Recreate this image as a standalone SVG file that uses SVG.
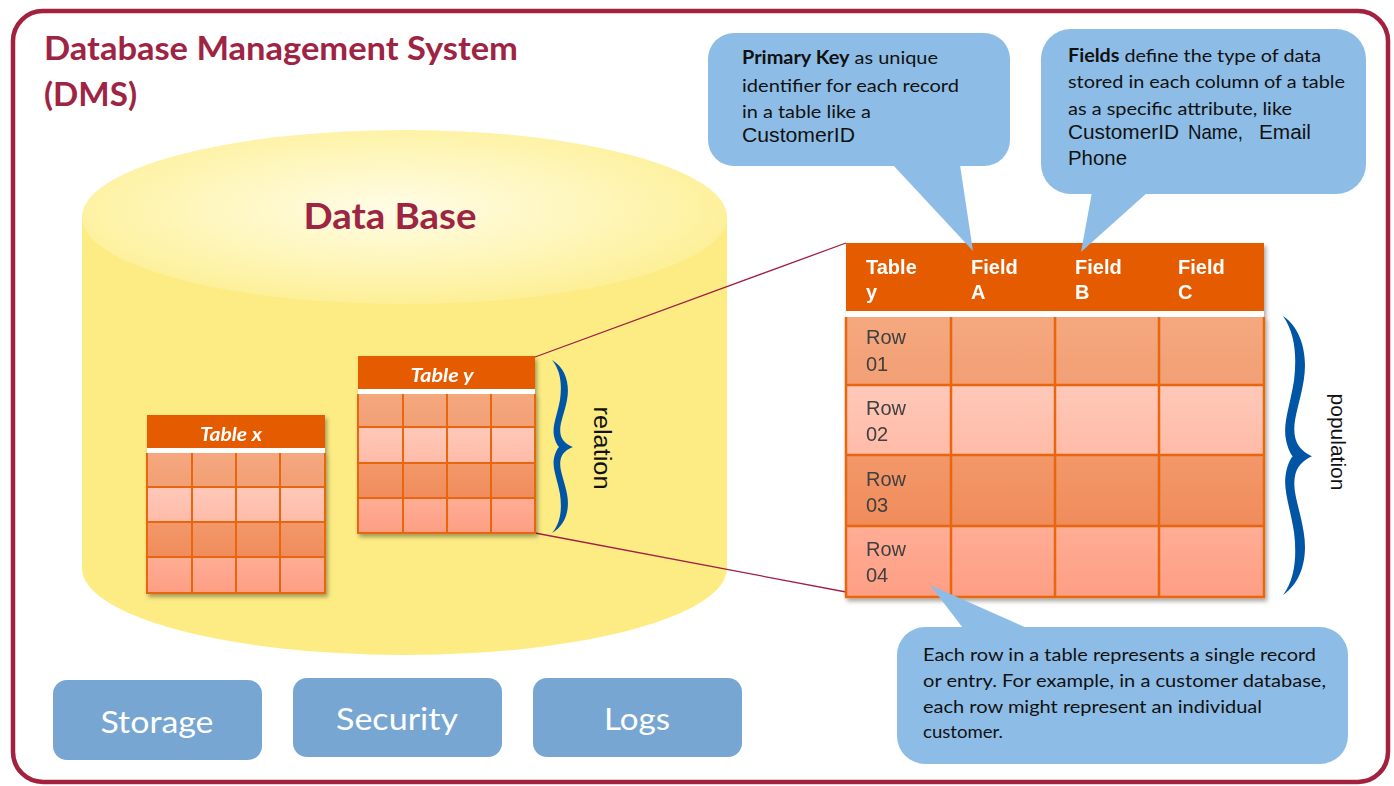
<svg xmlns="http://www.w3.org/2000/svg" width="1394" height="786" viewBox="0 0 1394 786">
<defs>
<style>
.cal{font-family:Lato,"Open Sans","Liberation Sans",sans-serif}
.ari{font-family:"Liberation Sans",Arial,sans-serif}
.maroon{fill:#9E2443}
.callout{fill:#8DBDE6}
.ctext{font-size:18px;fill:#111}
.atext{font-size:20.5px;fill:#111}
.box{fill:#77A6D2}
.boxtext{font-size:31px;fill:#fff;text-anchor:middle}
.hdr{fill:#E55C00}
.grid{stroke:#E8660F;stroke-width:2;fill:none}
.gridb{stroke:#E8660F;stroke-width:2.5;fill:none}
.th{font-size:20px;font-weight:bold;fill:#fff}
.rl{font-size:20px;fill:#404040}
.stitle{font-size:18px;font-weight:bold;font-style:italic;fill:#fff;text-anchor:middle}
.brace{fill:#0055A5}
.conn{stroke:#A01F45;stroke-width:1.3;fill:none}
</style>
<radialGradient id="topg" cx="0.48" cy="0.45" r="0.6">
<stop offset="0" stop-color="#FFFCE6"/>
<stop offset="0.6" stop-color="#FEF5B4"/>
<stop offset="1" stop-color="#FDEE90"/>
</radialGradient>
<linearGradient id="r1" x1="0" y1="0" x2="0" y2="1"><stop offset="0" stop-color="#F5A87F"/><stop offset="1" stop-color="#F29F74"/></linearGradient>
<linearGradient id="r2" x1="0" y1="0" x2="0" y2="1"><stop offset="0" stop-color="#FFC8B9"/><stop offset="1" stop-color="#FFBBA7"/></linearGradient>
<linearGradient id="r3" x1="0" y1="0" x2="0" y2="1"><stop offset="0" stop-color="#F3986A"/><stop offset="1" stop-color="#F08C5B"/></linearGradient>
<linearGradient id="r4" x1="0" y1="0" x2="0" y2="1"><stop offset="0" stop-color="#FFAD95"/><stop offset="1" stop-color="#FD9E84"/></linearGradient>
<filter id="sh" x="-10%" y="-10%" width="125%" height="125%">
<feDropShadow dx="2" dy="3" stdDeviation="2" flood-color="#000" flood-opacity="0.35"/>
</filter>
<path id="bracePath" d="M0,0 C14,8 18,25 15,40 C12,56 6,66 9,76 C11,82 16,85 21,87 C16,89 11,92 9,98 C6,108 12,118 15,134 C18,149 14,165 0,173 C9,163 10,148 8,134 C5,118 0,108 2,98 C3,93 5,89 7,87 C5,85 3,81 2,76 C0,66 5,56 8,40 C10,25 9,11 0,0 Z"/>
</defs>

<rect width="1394" height="786" fill="#fff"/>

<g id="frame">
<rect x="13" y="11" width="1375" height="771" rx="30" fill="none" stroke="#A3213F" stroke-width="4.5"/>
</g>

<g id="title" class="cal maroon" font-weight="bold">
<text x="44" y="60" font-size="33" textLength="474" lengthAdjust="spacingAndGlyphs">Database Management System</text>
<text x="44" y="106" font-size="33" textLength="93" lengthAdjust="spacingAndGlyphs">(DMS)</text>
</g>

<g id="database">
<path d="M82,217 L82,568 A322.5,87 0 0 0 727,568 L727,217 Z" fill="#FDEC84"/>
<ellipse cx="404.5" cy="217" rx="322.5" ry="87" fill="url(#topg)"/>
<text x="390" y="229" class="cal maroon" font-size="36" font-weight="bold" text-anchor="middle" textLength="173" lengthAdjust="spacingAndGlyphs">Data Base</text>
</g>

<g id="connectors">
<line class="conn" x1="535" y1="357" x2="846" y2="243"/>
<line class="conn" x1="535" y1="533" x2="846" y2="592"/>
</g>

<g id="table-x" filter="url(#sh)">
<rect x="147" y="415" width="178" height="33" class="hdr"/>
<rect x="147" y="448" width="178" height="5" fill="#fff"/>
<rect x="147" y="453" width="178" height="34" fill="url(#r1)"/>
<rect x="147" y="487" width="178" height="35" fill="url(#r2)"/>
<rect x="147" y="522" width="178" height="35" fill="url(#r3)"/>
<rect x="147" y="557" width="178" height="36" fill="url(#r4)"/>
<path class="grid" d="M192,453V593M236,453V593M280,453V593M147,487H325M147,522H325M147,557H325M147,453V593H325V453"/>
<text x="231" y="441" class="cal stitle" textLength="62" lengthAdjust="spacingAndGlyphs">Table x</text>
</g>

<g id="table-y" filter="url(#sh)">
<rect x="358" y="356" width="177" height="33" class="hdr"/>
<rect x="358" y="389" width="177" height="5" fill="#fff"/>
<rect x="358" y="394" width="177" height="33" fill="url(#r1)"/>
<rect x="358" y="427" width="177" height="36" fill="url(#r2)"/>
<rect x="358" y="463" width="177" height="35" fill="url(#r3)"/>
<rect x="358" y="498" width="177" height="35" fill="url(#r4)"/>
<path class="grid" d="M403,394V533M447,394V533M491,394V533M358,427H535M358,463H535M358,498H535M358,394V533H535V394"/>
<text x="442" y="382" class="cal stitle" textLength="63" lengthAdjust="spacingAndGlyphs">Table y</text>
</g>

<g id="relation-brace">
<use href="#bracePath" class="brace" transform="translate(552,360)"/>
<text transform="translate(594,448) rotate(90)" class="ari" font-size="23" fill="#111" text-anchor="middle" textLength="83" lengthAdjust="spacingAndGlyphs">relation</text>
</g>

<g id="big-table" filter="url(#sh)">
<rect x="846" y="243" width="418" height="68" class="hdr"/>
<rect x="846" y="311" width="418" height="6" fill="#fff"/>
<rect x="846" y="317" width="418" height="68" fill="url(#r1)"/>
<rect x="846" y="385" width="418" height="70" fill="url(#r2)"/>
<rect x="846" y="455" width="418" height="71" fill="url(#r3)"/>
<rect x="846" y="526" width="418" height="71" fill="url(#r4)"/>
<path class="gridb" d="M951,317V597M1055,317V597M1159,317V597M846,385H1264M846,455H1264M846,526H1264M846,317V597H1264V317"/>
<g class="ari th">
<text x="866" y="274">Table</text><text x="866" y="299">y</text>
<text x="971" y="274">Field</text><text x="971" y="299">A</text>
<text x="1075" y="274">Field</text><text x="1075" y="299">B</text>
<text x="1178" y="274">Field</text><text x="1178" y="299">C</text>
</g>
<g class="ari rl">
<text x="866" y="344">Row</text><text x="866" y="371">01</text>
<text x="866" y="415">Row</text><text x="866" y="441">02</text>
<text x="866" y="486">Row</text><text x="866" y="512">03</text>
<text x="866" y="556">Row</text><text x="866" y="582">04</text>
</g>
</g>

<g id="population-brace">
<use href="#bracePath" class="brace" transform="translate(1283,316) scale(1.38,1.613)"/>
<text transform="translate(1331,442) rotate(90)" class="ari" font-size="20" fill="#111" text-anchor="middle" textLength="97" lengthAdjust="spacingAndGlyphs">population</text>
</g>

<g id="callout-primary-key">
<rect x="708" y="33" width="302" height="133" rx="26" class="callout"/>
<polygon points="893,165 960,165 973,251" class="callout"/>
<text x="742" y="64" class="cal ctext" textLength="196" lengthAdjust="spacingAndGlyphs"><tspan font-weight="bold">Primary Key</tspan> as unique</text>
<text x="742" y="92" class="cal ctext" textLength="217" lengthAdjust="spacingAndGlyphs">identifier for each record</text>
<text x="742" y="118" class="cal ctext" textLength="129" lengthAdjust="spacingAndGlyphs">in a table like a</text>
<text x="742" y="142" class="ari atext" textLength="113" lengthAdjust="spacingAndGlyphs">CustomerID</text>
</g>

<g id="callout-fields">
<rect x="1041" y="29" width="325" height="165" rx="30" class="callout"/>
<polygon points="1092,192 1148,192 1081,252" class="callout"/>
<text x="1068" y="62" class="cal ctext" textLength="253" lengthAdjust="spacingAndGlyphs"><tspan font-weight="bold">Fields</tspan> define the type of data</text>
<text x="1068" y="88" class="cal ctext" textLength="277" lengthAdjust="spacingAndGlyphs">stored in each column of a table</text>
<text x="1068" y="115" class="cal ctext" textLength="224" lengthAdjust="spacingAndGlyphs">as a specific attribute, like</text>
<text x="1068" y="139" class="ari atext" textLength="111" lengthAdjust="spacingAndGlyphs">CustomerID</text>
<text x="1188" y="139" class="ari atext" textLength="55" lengthAdjust="spacingAndGlyphs">Name,</text>
<text x="1259" y="139" class="ari atext" textLength="52" lengthAdjust="spacingAndGlyphs">Email</text>
<text x="1068" y="165" class="ari atext" textLength="59" lengthAdjust="spacingAndGlyphs">Phone</text>
</g>

<g id="callout-row">
<rect x="897" y="627" width="451" height="137" rx="28" class="callout"/>
<polygon points="930,585 966,632 1036,632" class="callout"/>
<text x="923" y="661" class="cal ctext" textLength="393" lengthAdjust="spacingAndGlyphs">Each row in a table represents a single record</text>
<text x="923" y="687" class="cal ctext" textLength="403" lengthAdjust="spacingAndGlyphs">or entry. For example, in a customer database,</text>
<text x="923" y="713" class="cal ctext" textLength="339" lengthAdjust="spacingAndGlyphs">each row might represent an individual</text>
<text x="923" y="738" class="cal ctext" textLength="80" lengthAdjust="spacingAndGlyphs">customer.</text>
</g>

<g id="storage">
<rect x="53" y="680" width="209" height="80" rx="14" class="box"/>
<text x="157" y="733" class="cal boxtext" textLength="113" lengthAdjust="spacingAndGlyphs">Storage</text>
</g>
<g id="security">
<rect x="293" y="678" width="209" height="79" rx="14" class="box"/>
<text x="397" y="730" class="cal boxtext" textLength="122" lengthAdjust="spacingAndGlyphs">Security</text>
</g>
<g id="logs">
<rect x="533" y="678" width="209" height="79" rx="14" class="box"/>
<text x="637" y="730" class="cal boxtext" textLength="66" lengthAdjust="spacingAndGlyphs">Logs</text>
</g>
</svg>
